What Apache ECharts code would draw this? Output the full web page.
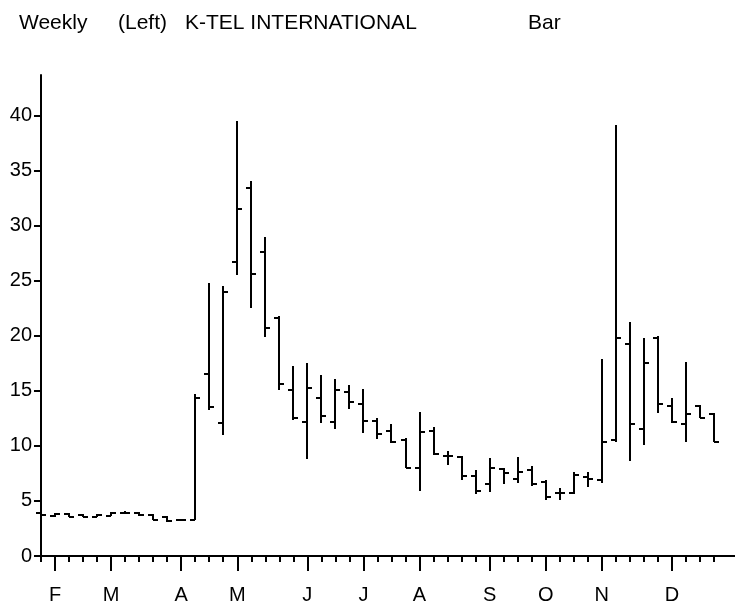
<!DOCTYPE html>
<html>
<head>
<meta charset="utf-8">
<script src="https://cdn.jsdelivr.net/npm/echarts@6/dist/echarts.min.js"></script>
<style>
  html, body { margin: 0; padding: 0; background: #fff; }
  #chart { width: 735px; height: 605px; }
</style>
</head>
<body>
<div id="chart"></div>
<script>
// weekly bars, one per week (index 0 = last week of January)
const openVals  = [3.9, 3.6, 3.8, 3.7, 3.5, 3.6, 3.9, 3.9, 3.7, 3.5, 3.3, 3.3, 16.5, 12.1, 26.7, 33.4, 27.6, 21.6, 15.1, 12.2, 14.4, 12.2, 14.9, 13.8, 12.3, 11.4, 10.5, 8.0, 11.4, 9.1, 9.0, 7.3, 6.5, 7.9, 7.0, 7.8, 6.7, 5.7, 5.7, 7.2, 6.9, 10.5, 19.3, 11.5, 19.8, 13.6, 12.0, 13.6, 12.9]
const highVals  = [4.1, 3.9, 3.9, 3.8, 3.8, 4.0, 4.1, 4.0, 3.8, 3.6, 3.4, 14.7, 24.8, 24.5, 39.5, 34.1, 29.0, 21.8, 17.3, 17.5, 16.4, 16.1, 15.5, 15.2, 12.5, 12.0, 10.7, 13.1, 11.7, 9.5, 9.1, 7.8, 8.9, 8.0, 9.0, 8.2, 6.9, 6.2, 7.6, 7.6, 17.9, 39.2, 21.3, 19.8, 20.0, 14.4, 17.6, 13.7, 13.0]
const lowVals   = [3.5, 3.5, 3.5, 3.5, 3.5, 3.6, 3.8, 3.6, 3.3, 3.1, 3.2, 3.3, 13.3, 11.0, 25.5, 22.5, 19.9, 15.1, 12.4, 8.8, 12.1, 11.5, 13.4, 11.2, 10.6, 10.3, 8.0, 5.9, 9.2, 8.3, 6.9, 5.6, 5.8, 6.5, 6.6, 6.4, 5.1, 5.1, 5.6, 6.3, 6.6, 10.4, 8.6, 10.1, 13.0, 12.1, 10.4, 12.5, 10.4]
const closeVals = [3.7, 3.8, 3.5, 3.5, 3.7, 3.9, 3.9, 3.7, 3.3, 3.2, 3.3, 14.4, 13.5, 24.0, 31.5, 25.6, 20.7, 15.6, 12.5, 15.3, 12.7, 15.1, 14.0, 12.3, 11.1, 10.4, 8.0, 11.3, 9.3, 9.1, 7.3, 5.9, 8.0, 7.5, 7.6, 6.5, 5.4, 5.7, 7.4, 7.0, 10.4, 19.8, 12.0, 17.5, 13.8, 12.2, 12.9, 12.5, 10.4]

// month labels and the week at which each month starts
const monthLetters = ['F', 'M', 'A', 'M', 'J', 'J', 'A', 'S', 'O', 'N', 'D']
const monthWeeks = [1, 5, 10, 14, 19, 23, 27, 32, 36, 40, 45]
const yTicks = [0, 5, 10, 15, 20, 25, 30, 35, 40]

const weekTicks = openVals.map((v, i) => i)
const ohlc = openVals.map((v, i) => [i, v, highVals[i], lowVals[i], closeVals[i]])

const FONT = '"Liberation Sans", Arial, sans-serif'
const gridBox = { left: 40, right: 0, top: 75, bottom: 49 }

const chart = echarts.init(document.getElementById('chart'))

const titleItem = (text, left) => ({
  text: text,
  left: left,
  top: 8,
  textStyle: { fontFamily: FONT, fontSize: 21, fontWeight: 'normal', color: '#000' },
})

chart.setOption({
  animation: false,
  backgroundColor: '#fff',
  title: [
    titleItem('Weekly', 14),
    titleItem('(Left)', 113),
    titleItem('K-TEL INTERNATIONAL', 180),
    titleItem('Bar', 523),
  ],
  grid: [
    Object.assign({}, gridBox),
    Object.assign({}, gridBox),
  ],
  xAxis: [
    {
      // month ticks + labels
      type: 'value',
      gridIndex: 0,
      min: -0.07,
      max: 49.5,
      splitLine: { show: false },
      axisLine: { lineStyle: { color: '#000', width: 2 } },
      axisTick: {
        length: 15,
        lineStyle: { color: '#000', width: 2 },
        customValues: monthWeeks,
      },
      axisLabel: {
        customValues: monthWeeks,
        margin: 29,
        color: '#000',
        fontFamily: FONT,
        fontSize: 20,
        formatter: (v) => monthLetters[monthWeeks.indexOf(Math.round(v))] || '',
      },
    },
    {
      // weekly minor ticks
      type: 'value',
      gridIndex: 1,
      min: -0.07,
      max: 49.5,
      splitLine: { show: false },
      axisLine: { show: false },
      axisTick: {
        length: 6,
        lineStyle: { color: '#000', width: 2 },
        customValues: weekTicks,
      },
      axisLabel: { show: false },
    },
  ],
  yAxis: [
    {
      type: 'value',
      gridIndex: 0,
      min: 0,
      max: 43.7,
      splitLine: { show: false },
      axisLine: { show: true, lineStyle: { color: '#000', width: 2 } },
      axisTick: {
        show: true,
        length: 7,
        lineStyle: { color: '#000', width: 2 },
        customValues: yTicks,
      },
      axisLabel: {
        customValues: yTicks,
        margin: 8,
        color: '#000',
        fontFamily: FONT,
        fontSize: 20,
      },
    },
    {
      type: 'value',
      gridIndex: 1,
      min: 0,
      max: 43.7,
      show: false,
    },
  ],
  series: [
    {
      type: 'custom',
      xAxisIndex: 0,
      yAxisIndex: 0,
      clip: false,
      data: ohlc,
      renderItem: (params, api) => {
        const x = api.value(0)
        const o = api.coord([x, api.value(1)])
        const h = api.coord([x, api.value(2)])
        const l = api.coord([x, api.value(3)])
        const c = api.coord([x, api.value(4)])
        const px = Math.round(h[0])
        const st = { stroke: '#000', lineWidth: 2 }
        return {
          type: 'group',
          children: [
            { type: 'line', shape: { x1: px, y1: Math.round(h[1]), x2: px, y2: Math.round(l[1]) }, style: st },
            { type: 'line', shape: { x1: px - 5, y1: Math.round(o[1]), x2: px, y2: Math.round(o[1]) }, style: st },
            { type: 'line', shape: { x1: px, y1: Math.round(c[1]), x2: px + 5, y2: Math.round(c[1]) }, style: st },
          ],
        }
      },
    },
  ],
})
</script>
</body>
</html>
